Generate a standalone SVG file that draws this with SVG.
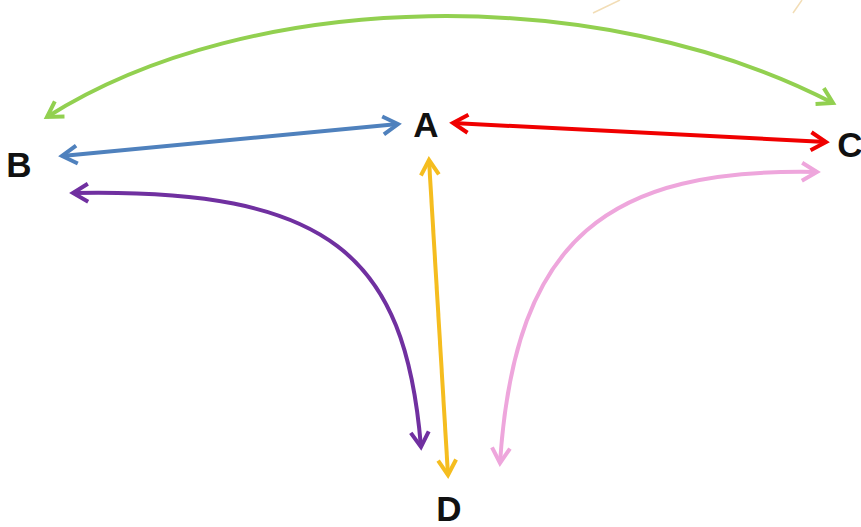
<svg xmlns="http://www.w3.org/2000/svg" width="861" height="527" viewBox="0 0 861 527">
<style>
.lbl{font-family:"Liberation Sans",Arial,sans-serif;font-weight:bold;font-size:35px;fill:#111;text-anchor:middle}
.c{fill:none;stroke-width:4;stroke-linecap:butt}
.ah{fill:none;stroke-width:4;stroke-linejoin:miter;stroke-linecap:butt}
</style>
<defs>
<marker id="mg" markerUnits="userSpaceOnUse" markerWidth="20" markerHeight="20" refX="0" refY="0" orient="auto-start-reverse" overflow="visible" viewBox="-16 -10 20 20"><path class="ah" d="M-15,-9 L0,0 L-15,9" stroke="#92d050"/></marker>
<marker id="mb" markerUnits="userSpaceOnUse" markerWidth="20" markerHeight="20" refX="0" refY="0" orient="auto-start-reverse" overflow="visible" viewBox="-16 -10 20 20"><path class="ah" d="M-15,-9 L0,0 L-15,9" stroke="#4f81bd"/></marker>
<marker id="mr" markerUnits="userSpaceOnUse" markerWidth="20" markerHeight="20" refX="0" refY="0" orient="auto-start-reverse" overflow="visible" viewBox="-16 -10 20 20"><path class="ah" d="M-15,-9 L0,0 L-15,9" stroke="#f00000"/></marker>
<marker id="mp" markerUnits="userSpaceOnUse" markerWidth="20" markerHeight="20" refX="0" refY="0" orient="auto-start-reverse" overflow="visible" viewBox="-16 -10 20 20"><path class="ah" d="M-15,-9 L0,0 L-15,9" stroke="#7030a0"/></marker>
<marker id="my" markerUnits="userSpaceOnUse" markerWidth="20" markerHeight="20" refX="0" refY="0" orient="auto-start-reverse" overflow="visible" viewBox="-16 -10 20 20"><path class="ah" d="M-15,-9 L0,0 L-15,9" stroke="#f5bd1f"/></marker>
<marker id="mk" markerUnits="userSpaceOnUse" markerWidth="20" markerHeight="20" refX="0" refY="0" orient="auto-start-reverse" overflow="visible" viewBox="-16 -10 20 20"><path class="ah" d="M-15,-9 L0,0 L-15,9" stroke="#eea6dc"/></marker>
</defs>
<rect width="861" height="527" fill="#fff"/>
<line x1="593" y1="13" x2="620" y2="0" stroke="#f2ddb6" stroke-width="1.5"/>
<line x1="793" y1="13" x2="802" y2="0" stroke="#f2ddb6" stroke-width="1.5"/>
<g id="connectors">
<path class="c" stroke="#92d050" d="M47,117 C250,-12 600,-18 833,103" marker-start="url(#mg)" marker-end="url(#mg)"/>
<path class="c" stroke="#4f81bd" d="M62,156 L398,124" marker-start="url(#mb)" marker-end="url(#mb)"/>
<path class="c" stroke="#f00000" d="M453,123 L826,142" marker-start="url(#mr)" marker-end="url(#mr)"/>
<path class="c" stroke="#7030a0" d="M73,193 C330,188 405,255 421,447" marker-start="url(#mp)" marker-end="url(#mp)"/>
<path class="c" stroke="#f5bd1f" d="M429,160 L448,475" marker-start="url(#my)" marker-end="url(#my)"/>
<path class="c" stroke="#eea6dc" d="M817,172 C610,168 515,235 500,463" marker-start="url(#mk)" marker-end="url(#mk)"/>
</g>
<g id="node-A"><text class="lbl" x="426" y="137">A</text></g>
<g id="node-B"><text class="lbl" x="19" y="177">B</text></g>
<g id="node-C"><text class="lbl" x="850" y="157">C</text></g>
<g id="node-D"><text class="lbl" x="449" y="521">D</text></g>
</svg>
